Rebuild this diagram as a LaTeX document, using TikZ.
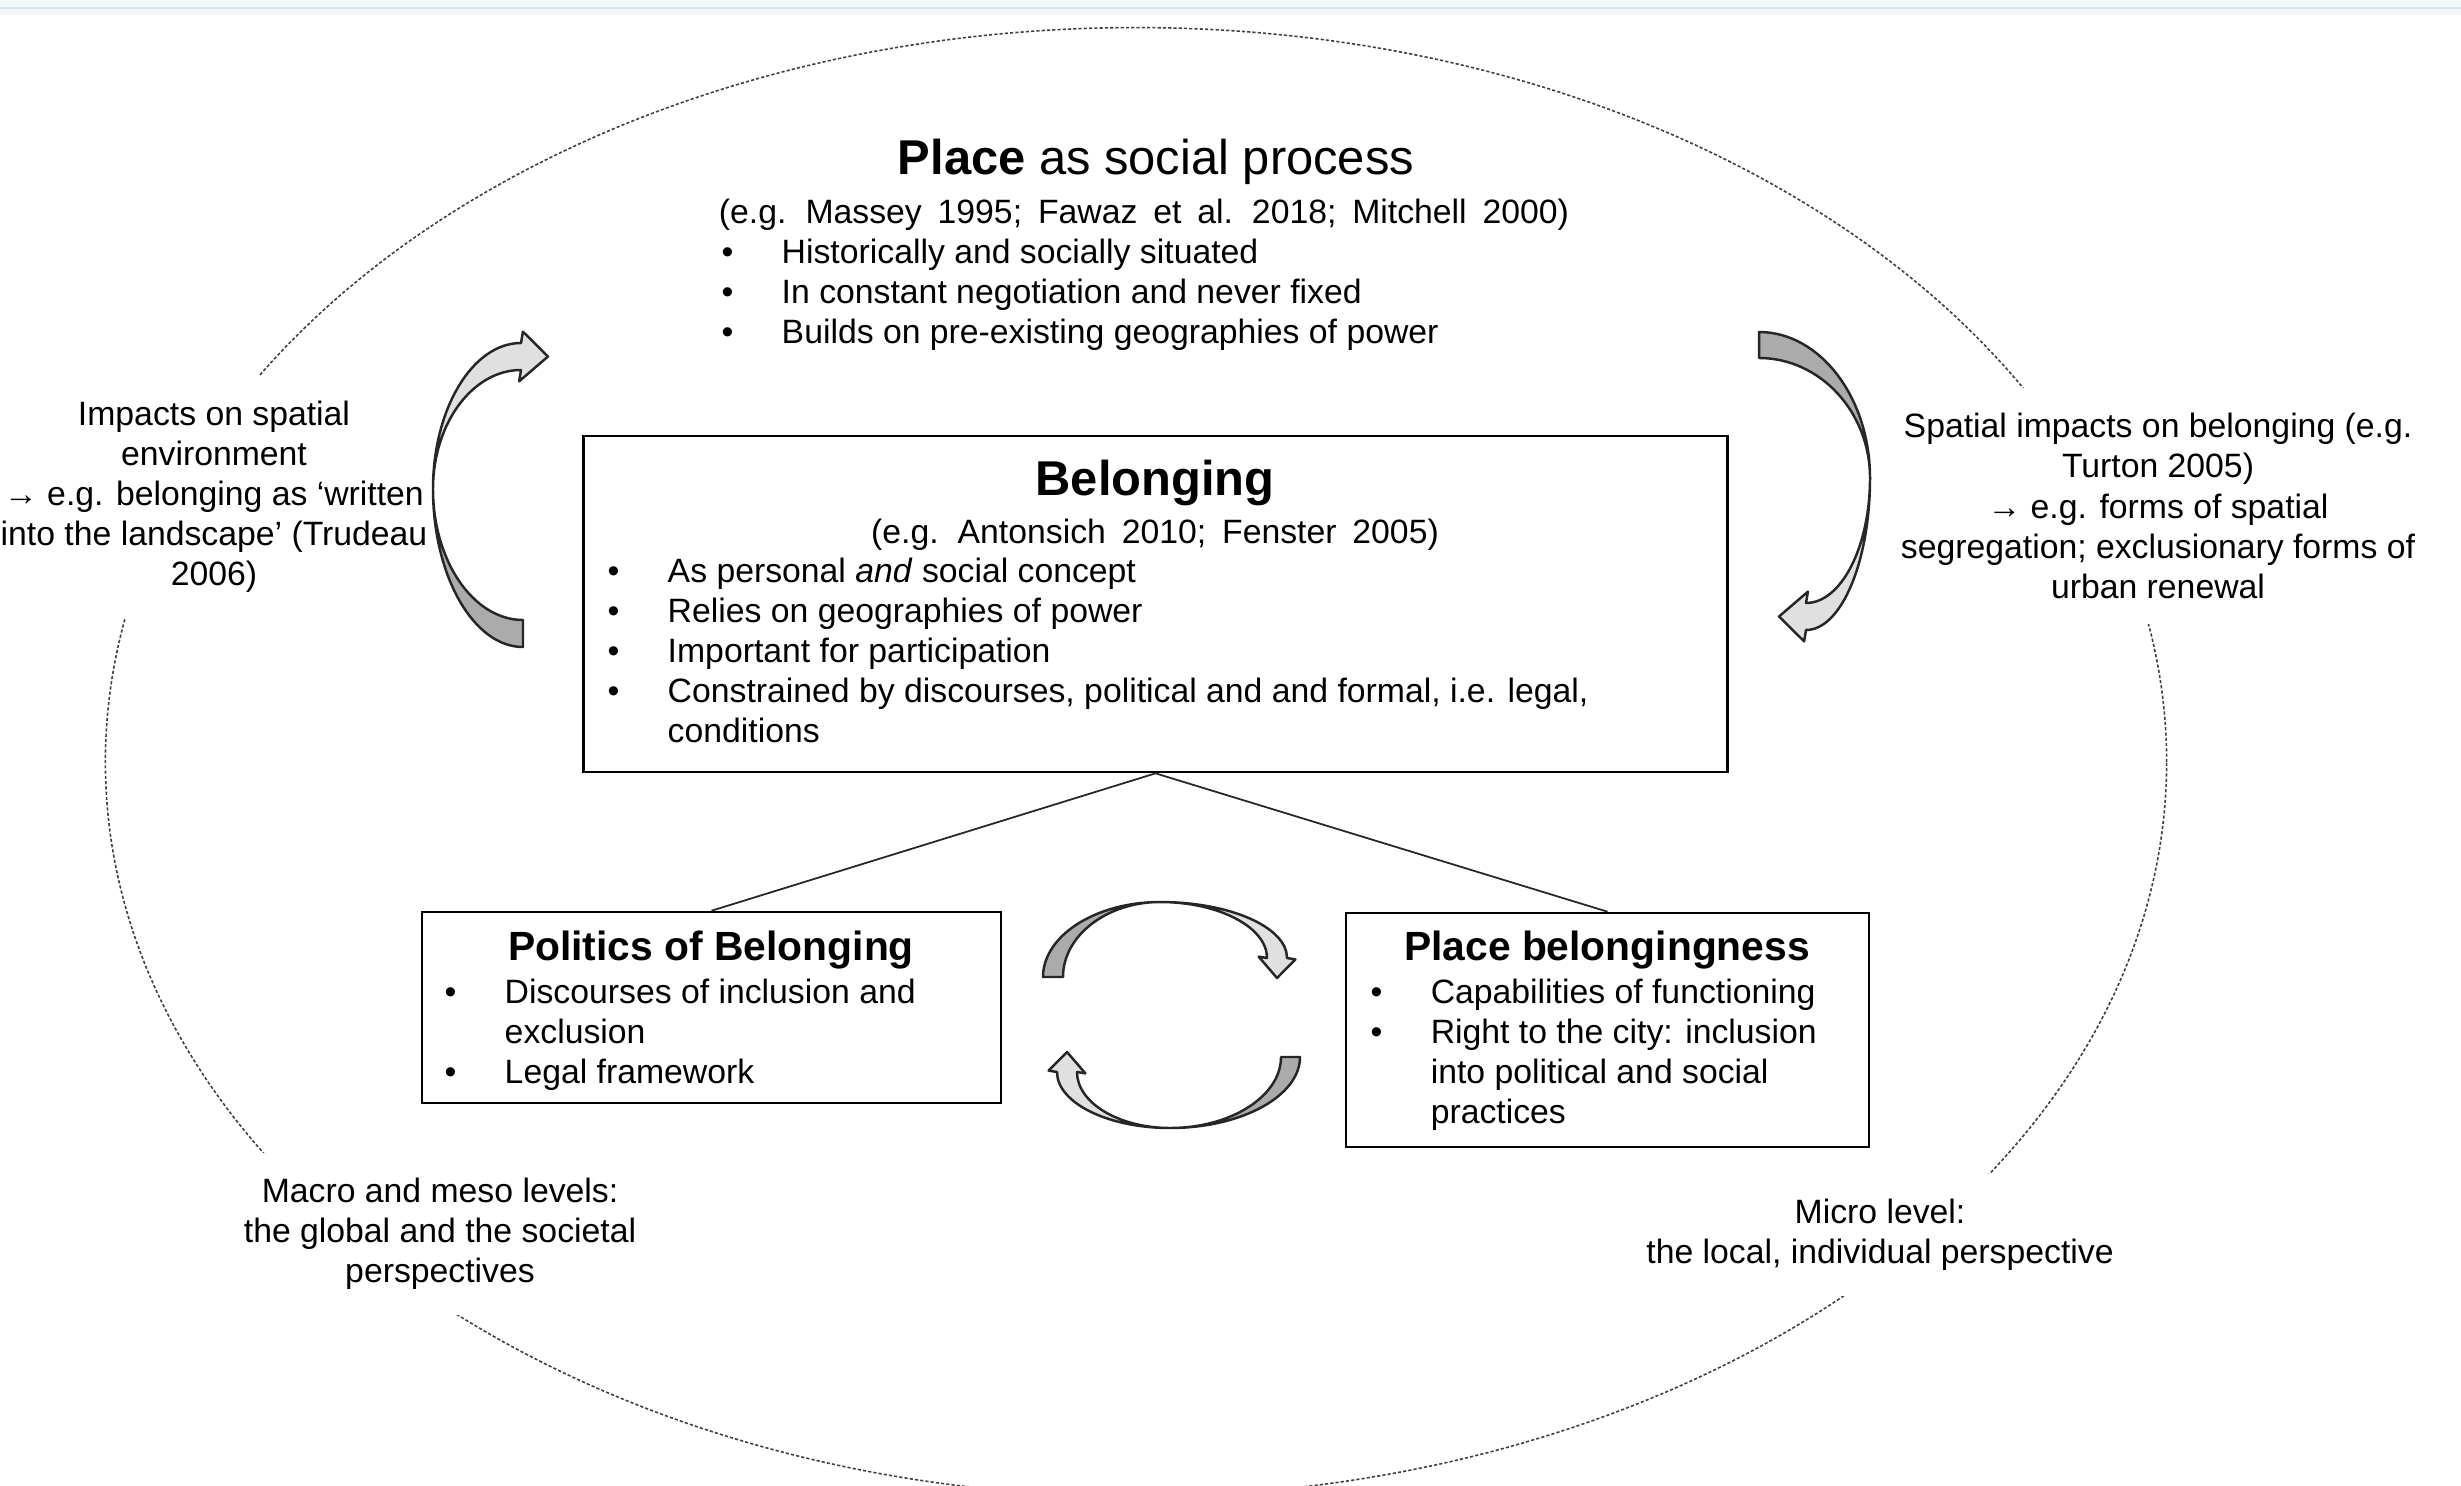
\documentclass[tikz,border=0pt]{standalone}
\usepackage{fontspec}
\setmainfont{Liberation Sans}
\usepackage{xcolor}
\usepackage{tikz}
\usetikzlibrary{positioning}
\definecolor{stripfill}{HTML}{F3F6F7}
\definecolor{stripline}{HTML}{D2E6EC}
\newcommand{\bodyfont}{\fontsize{9.6}{11.4}\selectfont}
\newcommand{\headfont}{\fontsize{13.9}{16}\selectfont}
\newcommand{\subheadfont}{\fontsize{11.6}{14}\selectfont}
\newcommand{\widespaces}{\spaceskip=0.47em\relax}
\newcommand{\bul}{\makebox[0.6cm][l]{\textbullet}}
\newcommand{\hang}{\hspace*{0.6cm}}
% ribbon arrow: dark back half (tail) and light front half (head)
\newcommand{\bentarrow}[6]{%
  \filldraw[arrowback] (#1,#2)
    .. controls ({0.45*#1},#2) and (0,{0.55*#2}) .. (0,0)
    .. controls (0,{0.55*(#2-#3)}) and ({0.45*#1},{#2-#3}) .. (#1,{#2-#3}) -- cycle;
  \filldraw[arrowfront] (0,0)
    .. controls (0,{-0.55*#5}) and ({0.45*#4},{-#5}) .. (#4,{-#5})
    -- ({#4+0.07*#6},{-#5-0.42*#6}) -- ({#4+#6},{-#5+0.5*#6})
    -- ({#4-0.07*#6},{-#5+1.42*#6}) -- (#4,{-#5+#6})
    .. controls ({0.45*#4},{-#5+#6}) and (0,{-0.55*(#5-#6)}) .. (0,0) -- cycle;
}
\tikzset{
    txt/.style = {inner sep=0pt, font=\bodyfont},
    list/.style = {txt, align=left, anchor=north west},
    side/.style = {txt, align=center, fill=white, inner sep=0.25cm},
    headtext/.style = {inner sep=0pt, font=\headfont, anchor=base},
    subhead/.style = {inner sep=0pt, font=\subheadfont\bfseries, anchor=base},
    panel/.style = {rectangle, draw=black, line width=0.7pt, inner sep=0pt},
    link/.style = {draw=black!85, line width=0.5pt},
    ring/.style = {draw=black!75, line width=0.45pt, dash pattern=on 0.9pt off 0.6pt},
    arrowback/.style = {fill=black!33, draw=black!85, line width=0.7pt, line join=round},
    arrowfront/.style = {fill=black!12, draw=black!85, line width=0.7pt, line join=round}
}
\begin{document}
\begin{tikzpicture}[x=0.01cm, y=-0.01cm]
    \useasboundingbox (0,0) rectangle (2461,1485);
    \fill[stripfill] (0,0) rectangle (2461,15);
    \draw[stripline, line width=0.5pt] (0,8) -- (2461,8);

    % outer ring
    \draw[ring] (1136,762) ellipse [x radius=10.3cm, y radius=7.34cm];

    % labels on the ring
    \node[side] (leftnote) at (214,497)
        {Impacts on spatial\\ environment\\ → e.g. belonging as ‘written\\
         into the landscape’ (Trudeau\\ 2006)};
    \node[side] (rightnote) at (2158,506)
        {Spatial impacts on belonging (e.g.\\ Turton 2005)\\ → e.g. forms of spatial\\
         segregation; exclusionary forms of\\ urban renewal};
    \node[side] (macronote) at (440,1234)
        {Macro and meso levels:\\ the global and the societal\\ perspectives};
    \node[side] (micronote) at (1880,1235)
        {Micro level:\\ the local, individual perspective};

    % place as social process
    \node[headtext] (placetitle) at (1156,175) {\textbf{Place} as social process};
    \node[txt, below=0.48cm of placetitle.base, anchor=base, xshift=-0.12cm] (placerefs)
        {\widespaces (e.g. Massey 1995; Fawaz et al. 2018; Mitchell 2000)};
    \node[list] (placelist) at (721,238)
        {\bul Historically and socially situated\\
         \bul In constant negotiation and never fixed\\
         \bul Builds on pre-existing geographies of power};

    % belonging
    \node[panel, minimum width=11.43cm, minimum height=3.36cm] (belong) at (1155.5,604) {};
    \node[headtext, font=\headfont\bfseries] (belongtitle) at (1155,495) {Belonging};
    \node[txt, below=0.48cm of belongtitle.base, anchor=base] (belongrefs)
        {\widespaces (e.g. Antonsich 2010; Fenster 2005)};
    \node[list] (belonglist) at (607,557)
        {\bul As personal \textit{and} social concept\\
         \bul Relies on geographies of power\\
         \bul Important for participation\\
         \bul Constrained by discourses, political and and formal, i.e. legal,\\
         \hang conditions};

    % politics of belonging
    \node[panel, minimum width=5.79cm, minimum height=1.91cm] (politics) at (711.5,1007.5) {};
    \node[subhead] (politicstitle) at (711,960) {Politics of Belonging};
    \node[list] (politicslist) at (444,978)
        {\bul Discourses of inclusion and\\
         \hang exclusion\\
         \bul Legal framework};

    % place belongingness
    \node[panel, minimum width=5.23cm, minimum height=2.34cm] (belongness) at (1607.5,1030) {};
    \node[subhead] (belongnesstitle) at (1607,960) {Place belongingness};
    \node[list] (belongnesslist) at (1370,978)
        {\bul Capabilities of functioning\\
         \bul Right to the city: inclusion\\
         \hang into political and social\\
         \hang practices};

    \draw[link] (belong.south) -- (politics.north);
    \draw[link] (belong.south) -- (belongness.north);

    % turning arrows
    \begin{scope}[shift={(433,489)}]
        \bentarrow{90}{158}{27}{88}{146}{27}
    \end{scope}
    \begin{scope}[shift={(1870,478)}, rotate=180]
        \bentarrow{111}{146}{26}{64}{152}{27}
    \end{scope}
    \begin{scope}[shift={(1160,902)}, rotate=-90]
        \bentarrow{75}{117}{20}{56}{127}{20}
    \end{scope}
    \begin{scope}[shift={(1170,1128)}, rotate=90]
        \bentarrow{71}{130}{19}{56}{113}{20}
    \end{scope}
\end{tikzpicture}
\end{document}
